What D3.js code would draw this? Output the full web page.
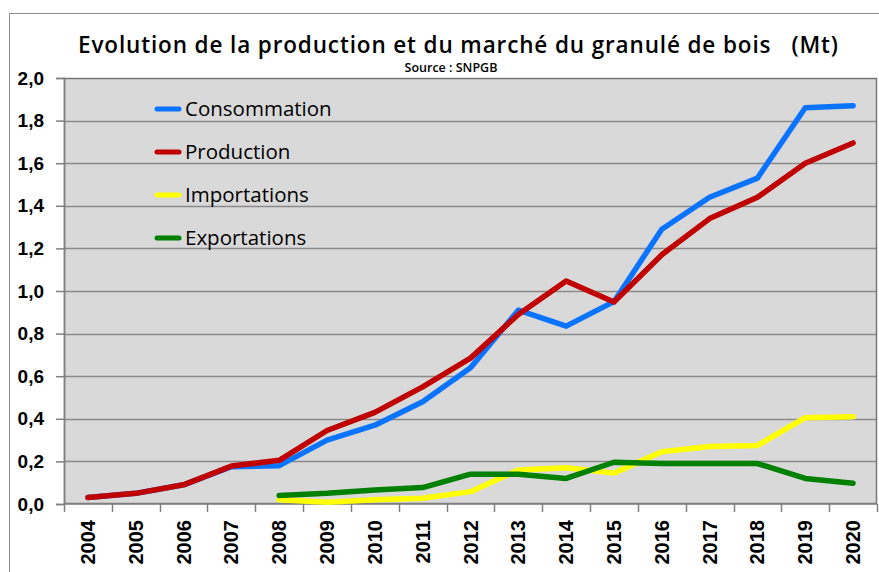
<!DOCTYPE html>
<html>
<head>
<meta charset="utf-8">
<script src="https://cdn.jsdelivr.net/npm/d3@7/dist/d3.min.js"></script>
<style>
  html, body { margin: 0; padding: 0; background: #fff; }
  svg { display: block; }
  text { white-space: pre; }
</style>
</head>
<body>
<svg id="chart" width="879" height="572"></svg>
<script>
const years = ["2004","2005","2006","2007","2008","2009","2010","2011","2012","2013","2014","2015","2016","2017","2018","2019","2020"];
const consommation = [0.03,0.05,0.09,0.175,0.18,0.30,0.37,0.48,0.64,0.91,0.835,0.95,1.29,1.44,1.53,1.86,1.87];
const production   = [0.03,0.05,0.09,0.178,0.205,0.345,0.43,0.55,0.685,0.89,1.047,0.948,1.17,1.34,1.44,1.60,1.695];
const importations = [null,null,null,null,0.02,0.008,0.02,0.027,0.058,0.16,0.17,0.145,0.245,0.27,0.275,0.405,0.41];
const exportations = [null,null,null,null,0.04,0.05,0.066,0.077,0.14,0.14,0.12,0.196,0.19,0.19,0.19,0.12,0.097];
const seriesNames  = ["Consommation","Production","Importations","Exportations"];
const seriesColors = ["#0a74ff","#c00000","#ffff00","#008000"];
const yTicks = [0,0.2,0.4,0.6,0.8,1.0,1.2,1.4,1.6,1.8,2.0];
const titleText = "Evolution de la production et du marché du granulé de bois   (Mt)";
const sourceText = "Source : SNPGB";

const series = [consommation, production, importations, exportations];

const svg = d3.select("#chart");
const W = 879, H = 572;
const plot = {left: 64, top: 78, right: 877, bottom: 504};

// outer chart border
svg.append("rect")
  .attr("x", 9.5).attr("y", 13.5)
  .attr("width", W + 20).attr("height", H + 20)
  .attr("fill", "#fff").attr("stroke", "#8c8c8c").attr("stroke-width", 1);

const x = d3.scaleBand().domain(years).range([plot.left, plot.right]).padding(0);
const y = d3.scaleLinear().domain([0, 2]).range([plot.bottom, plot.top]);

// plot background
svg.append("rect")
  .attr("x", plot.left).attr("y", plot.top)
  .attr("width", plot.right - plot.left).attr("height", plot.bottom - plot.top)
  .attr("fill", "#d9d9d9");

// gridlines
svg.append("g").selectAll("line")
  .data(yTicks.filter(d => d > 0 && d < 2))
  .join("line")
  .attr("x1", plot.left).attr("x2", plot.right)
  .attr("y1", d => Math.round(y(d)) + 0.5).attr("y2", d => Math.round(y(d)) + 0.5)
  .attr("stroke", "#8a8a8a").attr("stroke-width", 1.5);

// plot frame
svg.append("rect")
  .attr("x", plot.left + 0.5).attr("y", plot.top + 0.5)
  .attr("width", plot.right - plot.left - 1).attr("height", plot.bottom - plot.top - 1)
  .attr("fill", "none").attr("stroke", "#777").attr("stroke-width", 1.5);

// Y axis
const yAxis = d3.axisLeft(y).tickValues(yTicks).tickSize(8).tickPadding(12)
  .tickFormat(d => d3.format(".1f")(d).replace(".", ","));
const gy = svg.append("g").attr("transform", `translate(${plot.left},0)`).call(yAxis);
gy.select(".domain").attr("stroke", "#808080").attr("stroke-width", 1.5);
gy.selectAll(".tick line").attr("stroke", "#808080").attr("stroke-width", 1.5);
gy.selectAll(".tick text")
  .attr("font-family", "Liberation Sans, Arial, sans-serif")
  .attr("font-weight", "bold").attr("font-size", 19).attr("fill", "#000");

// X axis (ticks at category boundaries)
const gx = svg.append("g").attr("transform", `translate(0,${plot.bottom})`);
gx.append("line").attr("x1", plot.left).attr("x2", plot.right).attr("y1", 0).attr("y2", 0)
  .attr("stroke", "#808080").attr("stroke-width", 1.5);
const boundaries = years.map(d => x(d)).concat([x(years[years.length - 1]) + x.bandwidth()]);
gx.selectAll("line.tk").data(boundaries).join("line").attr("class", "tk")
  .attr("x1", d => Math.round(d) + 0.5).attr("x2", d => Math.round(d) + 0.5)
  .attr("y1", 0).attr("y2", 8).attr("stroke", "#808080").attr("stroke-width", 1.5);
gx.selectAll("text").data(years).join("text")
  .attr("transform", d => `translate(${x(d) + x.bandwidth() / 2 + 7},16) rotate(-90)`)
  .attr("text-anchor", "end")
  .attr("font-family", "Liberation Sans, Arial, sans-serif")
  .attr("font-weight", "bold").attr("font-size", 20).attr("fill", "#000")
  .text(d => d);

// lines
const line = d3.line()
  .defined(d => d.v !== null)
  .x(d => x(d.year) + x.bandwidth() / 2)
  .y(d => y(d.v));
series.forEach((s, i) => {
  svg.append("path")
    .datum(years.map((yr, j) => ({year: yr, v: s[j]})))
    .attr("d", line)
    .attr("fill", "none")
    .attr("stroke", seriesColors[i])
    .attr("stroke-width", 5.5)
    .attr("stroke-linejoin", "round")
    .attr("stroke-linecap", "round");
});

// legend
const legend = svg.append("g");
seriesNames.forEach((name, i) => {
  const ly = 109 + i * 43;
  legend.append("line").attr("x1", 157).attr("x2", 179).attr("y1", ly).attr("y2", ly)
    .attr("stroke", seriesColors[i]).attr("stroke-width", 5).attr("stroke-linecap", "round");
  legend.append("text").attr("x", 185).attr("y", ly + 7)
    .attr("font-family", "Open Sans, sans-serif").attr("font-size", 20.5)
    .attr("fill", "#000").text(name);
});

// title
svg.append("text").attr("x", 78).attr("y", 53)
  .attr("font-family", "Open Sans, sans-serif").attr("font-weight", "600").attr("font-size", 22.5)
  .attr("textLength", 760).attr("lengthAdjust", "spacing")
  .attr("fill", "#000").text(titleText);
svg.append("text").attr("x", 451).attr("y", 72).attr("text-anchor", "middle")
  .attr("font-family", "Open Sans, sans-serif").attr("font-weight", "600").attr("font-size", 12.5)
  .attr("fill", "#000").text(sourceText);
</script>
</body>
</html>
